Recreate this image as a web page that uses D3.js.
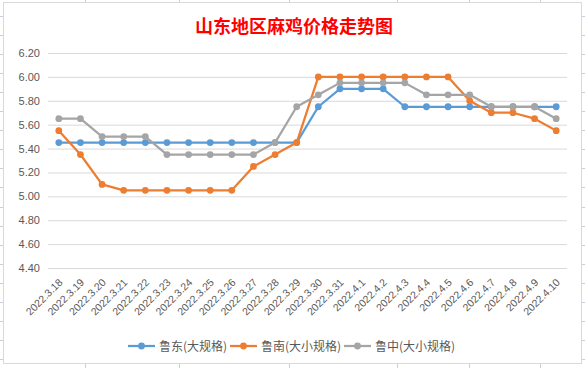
<!DOCTYPE html>
<html>
<head>
<meta charset="utf-8">
<script src="https://cdn.jsdelivr.net/npm/d3@7"></script>
<style>
  body { margin: 0; background: #fff; }
  svg { display: block; }
</style>
</head>
<body>
<svg id="chart" width="585" height="368"></svg>
<script>
// Categories (dates)
var dates = ['2022.3.18', '2022.3.19', '2022.3.20', '2022.3.21', '2022.3.22', '2022.3.23',
             '2022.3.24', '2022.3.25', '2022.3.26', '2022.3.27', '2022.3.28', '2022.3.29',
             '2022.3.30', '2022.3.31', '2022.4.1', '2022.4.2', '2022.4.3', '2022.4.4',
             '2022.4.5', '2022.4.6', '2022.4.7', '2022.4.8', '2022.4.9', '2022.4.10'];

// Series values
var ludong = [5.45, 5.45, 5.45, 5.45, 5.45, 5.45, 5.45, 5.45, 5.45, 5.45, 5.45, 5.45,
              5.75, 5.90, 5.90, 5.90, 5.75, 5.75, 5.75, 5.75, 5.75, 5.75, 5.75, 5.75];
var lunan  = [5.55, 5.35, 5.10, 5.05, 5.05, 5.05, 5.05, 5.05, 5.05, 5.25, 5.35, 5.45,
              6.00, 6.00, 6.00, 6.00, 6.00, 6.00, 6.00, 5.80, 5.70, 5.70, 5.65, 5.55];
var luzhong = [5.65, 5.65, 5.50, 5.50, 5.50, 5.35, 5.35, 5.35, 5.35, 5.35, 5.45, 5.75,
               5.85, 5.95, 5.95, 5.95, 5.95, 5.85, 5.85, 5.85, 5.75, 5.75, 5.75, 5.65];

var seriesNames = ['鲁东(大规格)', '鲁南(大小规格)', '鲁中(大小规格)'];
var seriesColors = ['#5B9BD5', '#ED7D31', '#A5A5A5'];

// Y tick labels
var yTicks = [4.40, 4.60, 4.80, 5.00, 5.20, 5.40, 5.60, 5.80, 6.00, 6.20];

var title = '山东地区麻鸡价格走势图';

/*
*       Setup
*/

var svg = d3.select('#chart');
var plot = { left: 48, right: 567, top: 53, bottom: 268 };

// Spreadsheet cells peeking out around the chart object
var sheetRows = d3.range(0, 19).map(function(k){ return 16 + k * 19.05; });
var sheetCols = [85, 179, 289, 397, 469, 540];

var bg = svg.append('g').attr('stroke', '#c9cede').attr('stroke-width', 1);
sheetRows.forEach(function(y){
    bg.append('line').attr('x1', 0).attr('x2', 3).attr('y1', Math.round(y) + 0.5).attr('y2', Math.round(y) + 0.5);
    bg.append('line').attr('x1', 582).attr('x2', 585).attr('y1', Math.round(y) + 0.5).attr('y2', Math.round(y) + 0.5);
});
sheetCols.forEach(function(x){
    bg.append('line').attr('x1', x + 0.5).attr('x2', x + 0.5).attr('y1', 0).attr('y2', 2);
    bg.append('line').attr('x1', x + 0.5).attr('x2', x + 0.5).attr('y1', 364).attr('y2', 368);
});

// Chart frame
svg.append('rect')
    .attr('x', 3.5).attr('y', 2.5)
    .attr('width', 578).attr('height', 361)
    .attr('fill', '#fff')
    .attr('stroke', '#d9d9d9');

// Title
svg.append('text')
    .attr('x', 294).attr('y', 33)
    .attr('text-anchor', 'middle')
    .attr('fill', '#ff0000')
    .attr('font-family', '"Noto Sans CJK SC", sans-serif')
    .attr('font-weight', 'bold')
    .attr('font-size', 18)
    .text(title);

// Scales
var x = d3.scalePoint()
    .domain(dates)
    .range([plot.left, plot.right])
    .padding(0.5);

var y = d3.scaleLinear()
    .domain([4.40, 6.20])
    .range([plot.bottom, plot.top]);

// Horizontal gridlines + y labels
var yAxis = d3.axisLeft(y)
    .tickValues(yTicks)
    .tickSize(-(plot.right - plot.left))
    .tickPadding(8)
    .tickFormat(d3.format('.2f'));

var gy = svg.append('g')
    .attr('transform', 'translate(' + plot.left + ',0)')
    .call(yAxis);
gy.select('.domain').remove();
gy.selectAll('.tick line').attr('stroke', '#d9d9d9');
gy.selectAll('.tick text')
    .attr('fill', '#595959')
    .attr('font-family', '"Liberation Sans", Arial, sans-serif')
    .attr('font-size', 11);

// X axis labels, rotated
var xAxis = d3.axisBottom(x).tickSize(0).tickPadding(0);
var gx = svg.append('g')
    .attr('transform', 'translate(0,' + plot.bottom + ')')
    .call(xAxis);
gx.select('.domain').remove();
gx.selectAll('.tick text')
    .attr('fill', '#595959')
    .attr('font-family', '"Liberation Sans", Arial, sans-serif')
    .attr('font-size', 10.5)
    .attr('text-anchor', 'end')
    .attr('dy', 0)
    .attr('transform', 'translate(4,15) rotate(-45)');

// Lines
var series = [ludong, lunan, luzhong];
var line = d3.line()
    .x(function(d, i){ return x(dates[i]); })
    .y(function(d){ return y(d); });

series.forEach(function(vals, s){
    var g = svg.append('g');
    g.append('path')
        .datum(vals)
        .attr('d', line)
        .attr('fill', 'none')
        .attr('stroke', seriesColors[s])
        .attr('stroke-width', 2.25)
        .attr('stroke-linejoin', 'round');
    g.selectAll('circle')
        .data(vals)
        .enter().append('circle')
        .attr('cx', function(d, i){ return x(dates[i]); })
        .attr('cy', function(d){ return y(d); })
        .attr('r', 3.4)
        .attr('fill', seriesColors[s]);
});

// Legend
var legendX = [128, 230, 344];
var legend = svg.append('g');
seriesNames.forEach(function(name, s){
    var lg = legend.append('g').attr('transform', 'translate(' + legendX[s] + ',346)');
    lg.append('line')
        .attr('x1', 0).attr('x2', 27)
        .attr('stroke', seriesColors[s])
        .attr('stroke-width', 2.25);
    lg.append('circle')
        .attr('cx', 13.5).attr('r', 3.4)
        .attr('fill', seriesColors[s]);
    lg.append('text')
        .attr('x', 31).attr('y', 4.5)
        .attr('fill', '#595959')
        .attr('font-family', '"Noto Sans CJK SC", sans-serif')
        .attr('font-size', 12)
        .text(name);
});
</script>
</body>
</html>
